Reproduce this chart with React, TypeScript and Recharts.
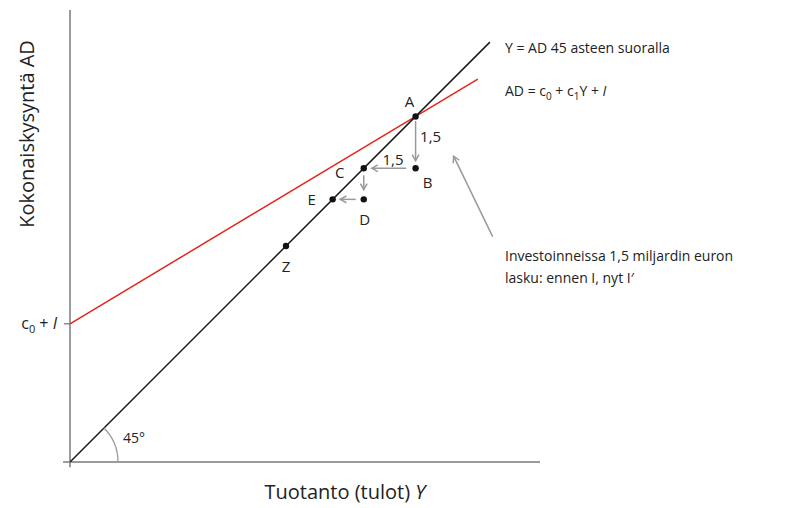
import React from "react";
import {
  ComposedChart,
  Line,
  Scatter,
  XAxis,
  YAxis,
  ReferenceLine,
  ReferenceDot,
} from "recharts";

// 45° line Y = AD and the aggregate demand line AD = c0 + c1*Y + I
const c0PlusI = 4;
const c1 = 0.6;
const line45 = [
  { x: 0, y: 0 },
  { x: 12.15, y: 12.15 },
];
const adLine = [
  { x: 0, y: c0PlusI },
  { x: 11.8, y: c0PlusI + c1 * 11.8 },
];

// points of the multiplier process
const pointNames = ["A", "B", "C", "D", "E", "Z"];
const pointX = [10, 10, 8.5, 8.5, 7.6, 6.25];
const pointY = [10, 8.5, 8.5, 7.6, 7.6, 6.25];

// gray step arrows: start, end and text label
const arrowFrom = [
  [10, 9.87],
  [9.73, 8.5],
  [8.5, 8.3],
  [8.27, 7.6],
  [12.23, 6.52],
];
const arrowTo = [
  [10, 8.72],
  [8.73, 8.5],
  [8.5, 7.88],
  [7.82, 7.6],
  [11.1, 8.85],
];
const arrowText = ["1,5", "1,5", "", "", ""];

const FONT = "'Open Sans', 'Noto Sans', sans-serif";
const AXIS = "#7a7a7a";
const ARROW = "#9a9a9a";

const labelOffset: Record<string, [number, number]> = {
  A: [-6, -15],
  B: [12, 14],
  C: [-24, 4],
  D: [1, 20],
  E: [-21, 0],
  Z: [0, 20],
};
const arrowLabelOffset = [
  [15, -5],
  [4, -9],
];

const points = pointNames.map((name, i) => ({ name, x: pointX[i], y: pointY[i] }));

function PointShape(props: any) {
  const { cx, cy, payload } = props;
  const [dx, dy] = labelOffset[payload.name] || [0, 0];
  return (
    <g>
      <circle cx={cx} cy={cy} r={3.2} fill="#111" />
      <text
        x={cx + dx}
        y={cy + dy}
        textAnchor="middle"
        dominantBaseline="central"
        fontFamily={FONT}
        fontSize={15}
        fill="#222"
      >
        {payload.name}
      </text>
    </g>
  );
}

function arrowShape(idx: number) {
  return (props: any) => {
    const { x1, y1, x2, y2 } = props;
    const ang = Math.atan2(y2 - y1, x2 - x1);
    const h = 7;
    const a1 = ang + Math.PI - 0.5;
    const a2 = ang + Math.PI + 0.5;
    const off = arrowLabelOffset[idx];
    return (
      <g>
        <line x1={x1} y1={y1} x2={x2} y2={y2} stroke={ARROW} strokeWidth={1.5} />
        <polyline
          points={`${x2 + h * Math.cos(a1)},${y2 + h * Math.sin(a1)} ${x2},${y2} ${
            x2 + h * Math.cos(a2)
          },${y2 + h * Math.sin(a2)}`}
          fill="none"
          stroke={ARROW}
          strokeWidth={1.5}
        />
        {arrowText[idx] && off && (
          <text
            x={(x1 + x2) / 2 + off[0]}
            y={(y1 + y2) / 2 + off[1]}
            textAnchor="middle"
            dominantBaseline="central"
            fontFamily={FONT}
            fontSize={15}
            fill="#222"
          >
            {arrowText[idx]}
          </text>
        )}
      </g>
    );
  };
}

function AngleMark(props: any) {
  const { cx, cy } = props;
  const r = 48;
  const ex = cx + r * Math.cos(Math.PI / 4);
  const ey = cy - r * Math.sin(Math.PI / 4);
  return (
    <g>
      <path
        d={`M ${cx + r} ${cy} A ${r} ${r} 0 0 0 ${ex} ${ey}`}
        fill="none"
        stroke={ARROW}
        strokeWidth={1.3}
      />
      <text x={cx + 53} y={cy - 19} fontFamily={FONT} fontSize={14} fill="#222">
        45°
      </text>
    </g>
  );
}

function InterceptTick(props: any) {
  const { cx, cy } = props;
  return (
    <g>
      <line x1={cx - 6} y1={cy} x2={cx} y2={cy} stroke={AXIS} strokeWidth={1.3} />
      <text x={cx - 13} y={cy + 5} textAnchor="end" fontFamily={FONT} fontSize={16} fill="#222">
        c<tspan fontSize={11} dy={4}>0</tspan>
        <tspan dy={-4}> + </tspan>
        <tspan fontStyle="italic">I</tspan>
      </text>
    </g>
  );
}

export default function App() {
  return (
    <div style={{ position: "absolute", left: 0, top: 0, width: 810, height: 508, background: "#fff" }}>
      <ComposedChart
        width={810}
        height={508}
        margin={{ left: 70, top: 10, right: 270, bottom: 46 }}
      >
        <XAxis type="number" dataKey="x" domain={[0, 13.6]} hide allowDataOverflow />
        <YAxis type="number" dataKey="y" domain={[0, 13.08]} hide allowDataOverflow />
        <ReferenceLine
          segment={[{ x: -0.2, y: 0 }, { x: 13.6, y: 0 }]}
          stroke={AXIS}
          strokeWidth={1.5}
          ifOverflow="visible"
        />
        <ReferenceLine
          segment={[{ x: 0, y: -0.15 }, { x: 0, y: 13.08 }]}
          stroke={AXIS}
          strokeWidth={1.5}
          ifOverflow="visible"
        />
        <ReferenceDot x={0} y={c0PlusI} r={0} shape={InterceptTick} ifOverflow="visible" />
        <ReferenceDot x={0} y={0} r={0} shape={AngleMark} ifOverflow="visible" />
        <Line
          data={adLine}
          dataKey="y"
          type="linear"
          stroke="#e3261c"
          strokeWidth={1.5}
          dot={false}
          isAnimationActive={false}
        />
        <Line
          data={line45}
          dataKey="y"
          type="linear"
          stroke="#1a1a1a"
          strokeWidth={1.5}
          dot={false}
          isAnimationActive={false}
        />
        {arrowFrom.map((f, i) => (
          <ReferenceLine
            key={i}
            segment={[{ x: f[0], y: f[1] }, { x: arrowTo[i][0], y: arrowTo[i][1] }]}
            shape={arrowShape(i)}
            ifOverflow="visible"
          />
        ))}
        <Scatter data={points} dataKey="y" shape={PointShape} isAnimationActive={false} />
      </ComposedChart>
      <svg
        width={810}
        height={508}
        style={{ position: "absolute", left: 0, top: 0, pointerEvents: "none" }}
      >
        <g fontFamily={FONT} fill="#222">
          <text x={505} y={53} fontSize={14}>
            Y = AD 45 asteen suoralla
          </text>
          <text x={505} y={96} fontSize={14}>
            AD = c<tspan fontSize={10} dy={4}>0</tspan>
            <tspan dy={-4}> + c</tspan>
            <tspan fontSize={10} dy={4}>1</tspan>
            <tspan dy={-4}>Y + </tspan>
            <tspan fontStyle="italic">I</tspan>
          </text>
          <text x={505} y={261} fontSize={14}>
            Investoinneissa 1,5 miljardin euron
          </text>
          <text x={505} y={283} fontSize={14}>
            lasku: ennen I, nyt I′
          </text>
          <text x={345} y={499} fontSize={20} textAnchor="middle">
            Tuotanto (tulot) <tspan fontStyle="italic">Y</tspan>
          </text>
          <text
            x={0}
            y={0}
            fontSize={20}
            textAnchor="middle"
            transform="translate(34, 134) rotate(-90)"
          >
            Kokonaiskysyntä AD
          </text>
        </g>
      </svg>
    </div>
  );
}
